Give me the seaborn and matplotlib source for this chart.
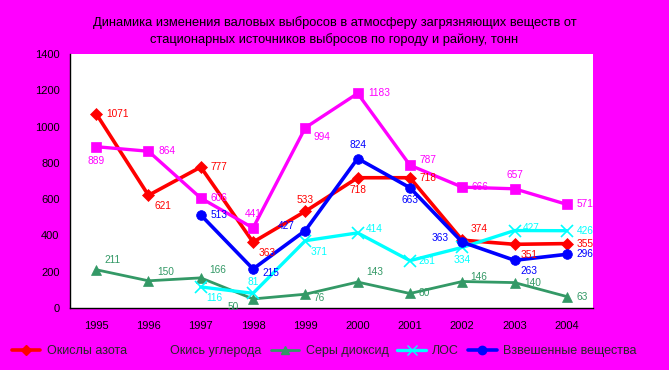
import numpy as np
import pandas as pd
import seaborn as sns
import matplotlib
matplotlib.use("Agg")
import matplotlib.pyplot as plt

years = ["1995", "1996", "1997", "1998", "1999", "2000", "2001", "2002", "2003", "2004"]
series_names = ["Окислы азота", "Окись углерода", "Серы диоксид", "ЛОС", "Взвешенные вещества"]
nox = [1071, 621, 777, 363, 533, 718, 718, 374, 351, 355]
co = [889, 864, 606, 441, 994, 1183, 787, 666, 657, 571]
so2 = [211, 150, 166, 50, 76, 143, 80, 146, 140, 63]
voc = [np.nan, np.nan, 116, 81, 371, 414, 261, 334, 427, 426]
pm = [np.nan, np.nan, 513, 215, 427, 824, 663, 363, 263, 296]
title = ("Динамика изменения валовых выбросов в атмосферу загрязняющих веществ от\n"
         "стационарных источников выбросов по городу и району, тонн")

values = [nox, co, so2, voc, pm]
colors = ["#FF0000", "#FF00FF", "#339966", "#00FFFF", "#0000FF"]
markers = ["D", "s", "^", "x", "o"]
lws = [2.6, 2.4, 2.0, 2.4, 2.6]
msizes = [6, 7, 7, 8, 7]

# label offsets in points (dx, dy) per series per point
offs = [
    [(7, 0), (4, -8), (7, 0), (4, -8), (0, 8), (0, -9), (7, 0), (6, 8), (4, -8), (7, 0)],
    [(0, -10), (7, 0), (7, 0), (0, 10), (6, -7), (8, 0), (7, 4), (7, 0), (0, 10), (7, 0)],
    [(6, 7), (6, 6), (6, 6), (-10, -6), (6, -3), (6, 7), (6, 0), (6, 3), (7, 0), (7, 0)],
    [None, None, (4, -8), (0, 8), (4, -8), (6, 3), (6, 0), (0, -9), (6, 2), (7, 0)],
    [None, None, (7, 0), (7, -3), (-8, 3), (0, 10), (0, -9), (-10, 3), (4, -8), (7, 0)],
]

rows = []
for name, vals in zip(series_names, values):
    for i, v in enumerate(vals):
        rows.append({"x": i, "year": years[i], "value": v, "series": name})
df = pd.DataFrame(rows)

sns.set_theme(style="white")
plt.rcParams["font.family"] = ["Liberation Sans", "DejaVu Sans"]

fig = plt.figure(figsize=(6.69, 3.70), dpi=100)
fig.patch.set_facecolor("#FF00FF")
ax = fig.add_axes([70 / 669, 1 - 308 / 370, (593 - 70) / 669, (308 - 54) / 370])
ax.set_facecolor("white")

for k, name in enumerate(series_names):
    sub = df[df["series"] == name].dropna()
    sns.lineplot(data=sub, x="x", y="value", ax=ax, color=colors[k], lw=lws[k],
                 marker=markers[k], markersize=msizes[k], markeredgecolor=colors[k],
                 markeredgewidth=1.2 if markers[k] == "x" else 0.5, label=name,
                 legend=False)
    for i, v in enumerate(values[k]):
        if np.isnan(v):
            continue
        dx, dy = offs[k][i]
        ha = "left" if dx > 1 else ("right" if dx < -1 else "center")
        ax.annotate(str(int(v)), (i, v), xytext=(dx, dy), textcoords="offset points",
                    ha=ha, va="center", fontsize=7.3, color=colors[k])

ax.set_xlim(-0.5, 9.5)
ax.set_ylim(0, 1400)
ax.set_yticks(range(0, 1401, 200))
ax.set_xticks(np.arange(-0.5, 10, 1))
ax.set_xticklabels([])
ax.tick_params(axis="both", direction="out", length=4, width=1, color="black",
               labelsize=8, labelcolor="black")
ax.tick_params(axis="x", length=5)
for i, y in enumerate(years):
    ax.text(i, -0.07, y, transform=ax.get_xaxis_transform(), ha="center", va="center",
            fontsize=8, color="black")
for s in ["top", "right"]:
    ax.spines[s].set_visible(False)
for s in ["left", "bottom"]:
    ax.spines[s].set_color("black")
    ax.spines[s].set_linewidth(1)
ax.set_xlabel("")
ax.set_ylabel("")

fig.text(0.5, 1 - 31 / 370, title, ha="center", va="center", fontsize=9.3,
         color="black", linespacing=1.5)

handles = [plt.Line2D([], [], color=colors[k], lw=lws[k], marker=markers[k],
                      markersize=msizes[k] - 1, markeredgecolor=colors[k])
           for k in range(5)]
fig.legend(handles, series_names, loc="center", bbox_to_anchor=(324 / 669, 1 - 351 / 370),
           ncol=5, frameon=False, fontsize=9, handlelength=2.3, handletextpad=0.5,
           columnspacing=0.7)

fig.savefig("out.png", dpi=100, facecolor=fig.get_facecolor())
